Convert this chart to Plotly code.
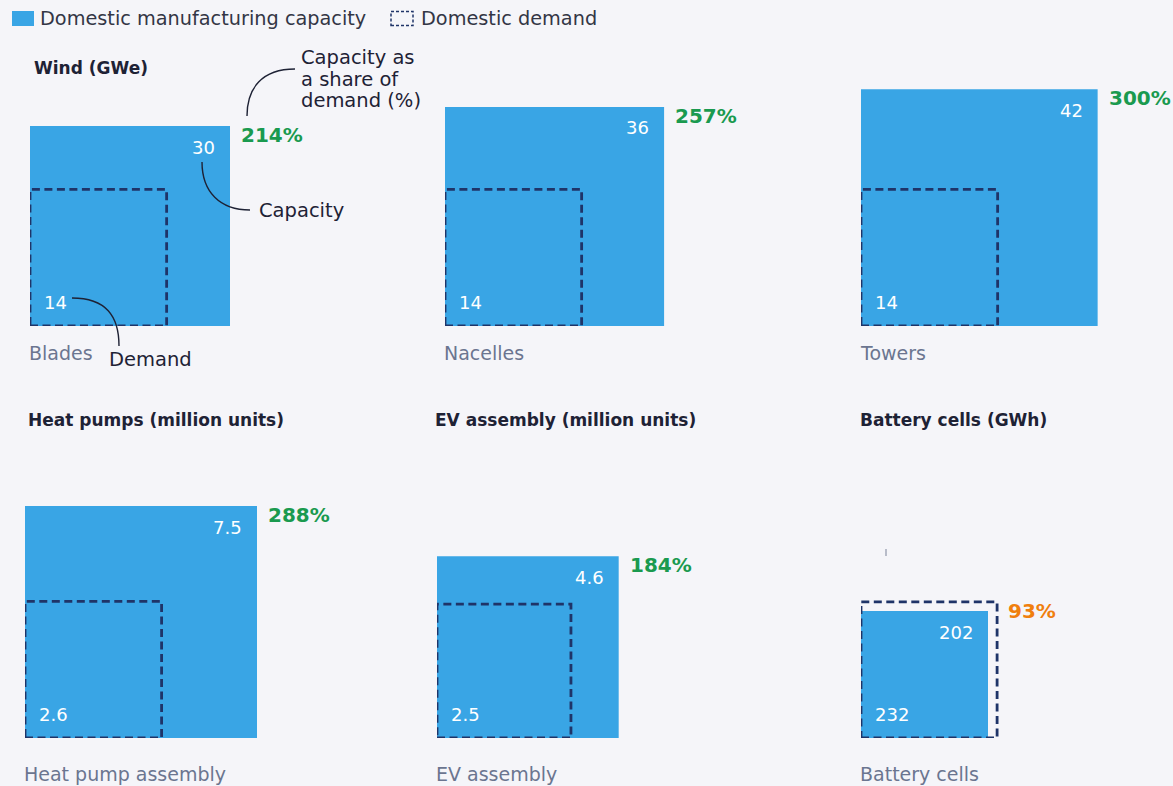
import math
import plotly.graph_objects as go

# ---- data -------------------------------------------------------------
products = ["Blades", "Nacelles", "Towers",
            "Heat pump assembly", "EV assembly", "Battery cells"]
capacity = [30, 36, 42, 7.5, 4.6, 202]          # domestic manufacturing capacity
demand = [14, 14, 14, 2.6, 2.5, 232]            # domestic demand
share_pct = [214, 257, 300, 288, 184, 93]       # capacity as a share of demand
group_titles = ["Wind (GWe)", "Heat pumps (million units)",
                "EV assembly (million units)", "Battery cells (GWh)"]

# ---- layout constants -------------------------------------------------
W, H = 1173, 786
FONT = "DejaVu Sans"
BG = "#f5f5f9"
BLUE = "#39a5e5"
NAVY = "#1f3468"
DARK = "#1e2235"
GREY = "#6b7590"
GREEN = "#1a9a4f"
ORANGE = "#f07f0e"

# panel anchor (left, baseline) in pixels; px per unit of square side
panel_left = [30, 445, 861, 25, 437, 861]
panel_base = [326, 326, 326, 738, 738, 738]
side_scale = [200 / math.sqrt(30)] * 3 + [232 / math.sqrt(7.5)] * 2 + [127 / math.sqrt(202)]
BOX = 280
label_row_y = [353, 353, 353, 774, 774, 774]
title_pos = [(32, 68), (26, 420), (433, 420), (858, 420)]


def fx(px):
    return px / W


def fy(py):
    return 1 - py / H


fig = go.Figure()
annotations = []
shapes = []
layout_axes = {}

for i, name in enumerate(products):
    sfx = "" if i == 0 else str(i + 1)
    xa, ya = "x" + sfx, "y" + sfx
    k = side_scale[i]
    L, B = panel_left[i], panel_base[i]
    rng = BOX / k
    layout_axes["xaxis" + sfx] = dict(domain=[fx(L), fx(L + BOX)], range=[0, rng],
                                      visible=False, fixedrange=True, anchor=ya)
    layout_axes["yaxis" + sfx] = dict(domain=[fy(B), fy(B - BOX)], range=[0, rng],
                                      visible=False, fixedrange=True, anchor=xa)

    # square area proportional to value -> side = sqrt(value)
    sc = math.sqrt(capacity[i])
    sd = math.sqrt(demand[i])

    fig.add_trace(go.Scatter(
        x=[0, sc, sc, 0, 0], y=[0, 0, sc, sc, 0], mode="lines",
        fill="toself", fillcolor=BLUE, line=dict(width=0, color=BLUE),
        xaxis=xa, yaxis=ya, hoverinfo="skip", showlegend=False))
    fig.add_trace(go.Scatter(
        x=[0, sd, sd, 0, 0], y=[0, 0, sd, sd, 0], mode="lines",
        line=dict(width=2.8, color=NAVY, dash="8px,4.5px"),
        xaxis=xa, yaxis=ya, hoverinfo="skip", showlegend=False))

    annotations.append(dict(
        x=sc, y=sc, xref=xa, yref=ya, text=f"{capacity[i]:g}", showarrow=False,
        xanchor="right", yanchor="middle", xshift=-13, yshift=-21,
        font=dict(family=FONT, size=18, color="white")))
    annotations.append(dict(
        x=0, y=0, xref=xa, yref=ya, text=f"{demand[i]:g}", showarrow=False,
        xanchor="left", yanchor="middle", xshift=12, yshift=24,
        font=dict(family=FONT, size=18, color="white")))
    top = max(sc, sd)
    annotations.append(dict(
        x=top, y=top, xref=xa, yref=ya, text=f"<b>{share_pct[i]}%</b>",
        showarrow=False, xanchor="left", yanchor="middle", xshift=9, yshift=-9,
        font=dict(family=FONT, size=20, color=GREEN if share_pct[i] >= 100 else ORANGE)))
    annotations.append(dict(
        x=0, xref=xa, y=fy(label_row_y[i]), yref="paper", text=name,
        showarrow=False, xanchor="left", yanchor="middle", xshift=-3,
        font=dict(family=FONT, size=19, color=GREY)))

for t, (tx, ty) in zip(group_titles, title_pos):
    annotations.append(dict(
        x=fx(tx), y=fy(ty), xref="paper", yref="paper", text=f"<b>{t}</b>",
        showarrow=False, xanchor="left", yanchor="middle",
        font=dict(family=FONT, size=17, color=DARK)))

# explanatory callouts on the first panel
share_note = ["Capacity as", "a share of", "demand (%)"]
for j, line in enumerate(share_note):
    annotations.append(dict(
        x=fx(299), y=fy(58 + 21 * j), xref="paper", yref="paper", text=line,
        showarrow=False, xanchor="left", yanchor="middle",
        font=dict(family=FONT, size=19.5, color=DARK)))
annotations += [
    dict(x=fx(257), y=fy(210), xref="paper", yref="paper", text="Capacity",
         showarrow=False, xanchor="left", yanchor="middle",
         font=dict(family=FONT, size=19.5, color=DARK)),
    dict(x=fx(107), y=fy(359), xref="paper", yref="paper", text="Demand",
         showarrow=False, xanchor="left", yanchor="middle",
         font=dict(family=FONT, size=19.5, color=DARK)),
]


def curve(p0, c1, c2, p1):
    pts = [p0, c1, c2, p1]
    s = [f"{fx(a):.5f},{fy(b):.5f}" for a, b in pts]
    return f"M {s[0]} C {s[1]} {s[2]} {s[3]}"


for p in [curve((247, 116), (247, 88), (262, 69), (295, 69)),
          curve((202, 162), (202, 192), (220, 210), (250, 210)),
          curve((72, 298), (106, 298), (119, 316), (119, 346))]:
    shapes.append(dict(type="path", path=p, xref="paper", yref="paper",
                       line=dict(color=DARK, width=1.4)))

# small stray tick above the battery panel
shapes.append(dict(type="line", xref="paper", yref="paper",
                   x0=fx(886), x1=fx(886), y0=fy(549), y1=fy(556),
                   line=dict(color="#a3a8b8", width=1.5)))

# legend
shapes.append(dict(type="rect", xref="paper", yref="paper",
                   x0=fx(12), x1=fx(34), y0=fy(26), y1=fy(11),
                   fillcolor=BLUE, line=dict(width=0)))
shapes.append(dict(type="rect", xref="paper", yref="paper",
                   x0=fx(391), x1=fx(413), y0=fy(25.5), y1=fy(11.5),
                   fillcolor="rgba(0,0,0,0)",
                   line=dict(color=NAVY, width=1.5, dash="3px,2px")))
annotations += [
    dict(x=fx(38), y=fy(18.5), xref="paper", yref="paper",
         text="Domestic manufacturing capacity", showarrow=False,
         xanchor="left", yanchor="middle",
         font=dict(family=FONT, size=19.3, color="#333645")),
    dict(x=fx(419), y=fy(18.5), xref="paper", yref="paper",
         text="Domestic demand", showarrow=False,
         xanchor="left", yanchor="middle",
         font=dict(family=FONT, size=19.3, color="#333645")),
]

fig.update_layout(
    width=W, height=H, margin=dict(l=0, r=0, t=0, b=0),
    paper_bgcolor=BG, plot_bgcolor=BG, showlegend=False,
    annotations=annotations, shapes=shapes, **layout_axes)

fig.write_html("out.html", config={"displayModeBar": False})
